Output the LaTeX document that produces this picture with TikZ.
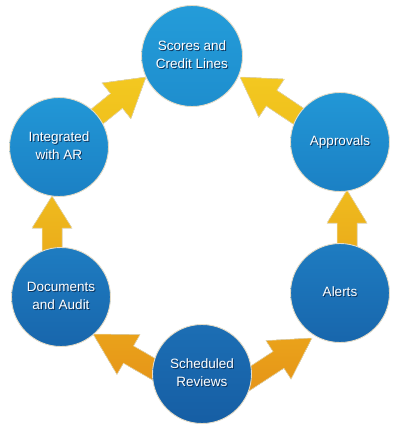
\documentclass[tikz,border=0pt]{standalone}
\usepackage{fontspec}
\setmainfont{Liberation Sans}
\usetikzlibrary{calc,backgrounds}
\definecolor{ringc}{RGB}{228,220,200}
\definecolor{arrline}{RGB}{240,228,190}
\definecolor{shadowc}{RGB}{12,50,90}
\definecolor{scT}{RGB}{36,156,217}\definecolor{scB}{RGB}{30,142,206}
\definecolor{mdT}{RGB}{34,151,214}\definecolor{mdB}{RGB}{27,128,196}
\definecolor{loT}{RGB}{30,124,193}\definecolor{loB}{RGB}{24,102,172}
\definecolor{btT}{RGB}{28,110,180}\definecolor{btB}{RGB}{22,94,164}
\definecolor{a1T}{RGB}{243,200,32}\definecolor{a1B}{RGB}{239,190,28}
\definecolor{a2T}{RGB}{239,187,30}\definecolor{a2B}{RGB}{234,170,26}
\definecolor{a3T}{RGB}{234,162,26}\definecolor{a3B}{RGB}{228,145,24}
\newcommand\shtxt[1]{\leavevmode\rlap{\kern1pt\raisebox{-1pt}{\color{shadowc}\begin{tabular}{@{}c@{}}#1\end{tabular}}}\begin{tabular}{@{}c@{}}#1\end{tabular}}
\newcommand\blockarr[6]{%
  \path ($(#2)!#5!(#1)$) coordinate (bh);
  \filldraw[#6] (#2) -- ($(bh)!#4!90:(#2)$) -- ($(bh)!#3!90:(#2)$)
    -- ($(#1)!#3!90:(#2)$) -- ($(#1)!#3!-90:(#2)$)
    -- ($(bh)!#3!-90:(#2)$) -- ($(bh)!#4!-90:(#2)$) -- cycle;}
\tikzset{
  stage/.style={circle, minimum size=99pt, inner sep=0pt, draw=ringc, line width=0.9pt,
    text=white, font=\fontsize{13.5}{18}\selectfont},
  arrbase/.style={draw=arrline, line width=0.5pt},
  arrtop/.style={arrbase, top color=a1T, bottom color=a1B},
  arrmid/.style={arrbase, top color=a2T, bottom color=a2B},
  arrlow/.style={arrbase, top color=a3T, bottom color=a3B},
}
\begin{document}
\begin{tikzpicture}[x=1pt,y=-1pt]
\useasboundingbox (0,0) rectangle (400,432);
\node[stage, minimum size=101pt, top color=scT, bottom color=scB] (sc) at (192,56) {\shtxt{Scores and\\Credit Lines}};
\node[stage, top color=mdT, bottom color=mdB] (int) at (59,147) {\shtxt{Integrated\\with AR}};
\node[stage, top color=mdT, bottom color=mdB] (app) at (340,142) {\shtxt{Approvals}};
\node[stage, top color=loT, bottom color=loB] (doc) at (61,297) {\shtxt{Documents\\and Audit}};
\node[stage, top color=loT, bottom color=loB] (ale) at (340,293) {\shtxt{Alerts}};
\node[stage, top color=btT, bottom color=btB] (sch) at (202,374) {\shtxt{Scheduled\\Reviews}};
% arrow tips and tails
\coordinate (p1) at (146,77);  \coordinate (q1) at (68,140);
\coordinate (p2) at (240,77);  \coordinate (q2) at (325,134);
\coordinate (p3) at (347,190); \coordinate (q3) at (347,262);
\coordinate (p4) at (52,196);  \coordinate (q4) at (52,262);
\coordinate (p5) at (93,334);  \coordinate (q5) at (188,389);
\coordinate (p6) at (312,338); \coordinate (q6) at (220,398);
\begin{scope}[on background layer]
\blockarr{q1}{p1}{9.5pt}{23pt}{38pt}{arrtop}
\blockarr{q2}{p2}{9.5pt}{23pt}{38pt}{arrtop}
\blockarr{q3}{p3}{10pt}{20pt}{33pt}{arrmid}
\blockarr{q4}{p4}{10pt}{20pt}{32pt}{arrmid}
\blockarr{q5}{p5}{10pt}{23pt}{41pt}{arrlow}
\blockarr{q6}{p6}{10pt}{23pt}{40pt}{arrlow}
\end{scope}
\end{tikzpicture}
\end{document}
